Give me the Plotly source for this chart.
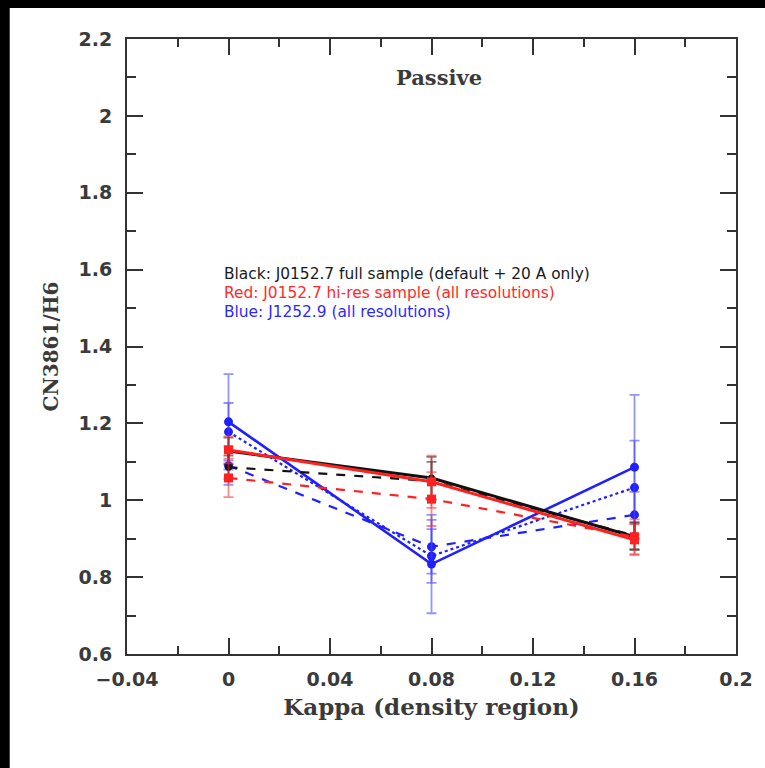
import plotly.graph_objects as go

# Kappa (density region) bins
kappa = [0.0, 0.08, 0.16]

# CN3861/H6 index per sample and variant
black_solid = [1.128, 1.058, 0.905]
black_solid_err = [0.035, 0.055, 0.035]
black_dash = [1.086, 1.050, 0.908]
black_dash_err = [0.030, 0.050, 0.035]

red_solid = [1.131, 1.048, 0.897]
red_solid_err = [0.035, 0.068, 0.040]
red_dash = [1.058, 1.003, 0.905]
red_dash_err = [0.050, 0.070, 0.045]

blue_solid = [1.204, 0.834, 1.086]
blue_solid_err = [0.124, 0.128, 0.188]
blue_dot = [1.178, 0.855, 1.033]
blue_dot_err = [0.075, 0.070, 0.122]
blue_dash = [1.090, 0.879, 0.962]
blue_dash_err = [0.050, 0.070, 0.060]

x_ticks = [-0.04, 0, 0.04, 0.08, 0.12, 0.16, 0.2]
x_tick_text = ["\u22120.04", "0", "0.04", "0.08", "0.12", "0.16", "0.2"]
y_ticks = [0.6, 0.8, 1.0, 1.2, 1.4, 1.6, 1.8, 2.0, 2.2]
y_tick_text = ["0.6", "0.8", "1", "1.2", "1.4", "1.6", "1.8", "2", "2.2"]

legend_lines = [
    ("Black: J0152.7 full sample (default + 20 A only)", "#1a1a1a"),
    ("Red: J0152.7 hi-res sample (all resolutions)", "#ff2a2a"),
    ("Blue: J1252.9 (all resolutions)", "#2a2aff"),
]

BLUE = "#1f1fff"
BLUE_ERR = "rgba(60,60,255,0.55)"
RED = "#ff2020"
RED_ERR = "rgba(255,40,40,0.55)"
BLACK = "#111111"
BLACK_ERR = "rgba(20,20,20,0.55)"
TEXT = "#3a3a3a"

fig = go.Figure()


def add_series(y, err, color, err_color, dash, symbol, width=2.6, size=9):
    fig.add_trace(go.Scatter(
        x=kappa, y=y, mode="lines+markers",
        line=dict(color=color, width=width, dash=dash),
        marker=dict(color=color, size=size, symbol=symbol),
        error_y=dict(type="data", array=err, visible=True,
                     color=err_color, thickness=1.8, width=5),
        showlegend=False, hoverinfo="skip",
    ))


# blue drawn first, then black, red on top
add_series(blue_dash, blue_dash_err, BLUE, BLUE_ERR, "dash", "circle", width=2.2)
add_series(blue_dot, blue_dot_err, BLUE, BLUE_ERR, "dot", "circle", width=2.2)
add_series(blue_solid, blue_solid_err, BLUE, BLUE_ERR, "solid", "circle")
add_series(black_dash, black_dash_err, BLACK, BLACK_ERR, "dash", "circle", width=2.2, size=7)
add_series(black_solid, black_solid_err, BLACK, BLACK_ERR, "solid", "circle", width=3, size=7)
add_series(red_dash, red_dash_err, RED, RED_ERR, "dash", "square", width=2.2)
add_series(red_solid, red_solid_err, RED, RED_ERR, "solid", "square", width=3)

axis_common = dict(
    showgrid=False, zeroline=False, showline=True, mirror="ticks",
    linecolor="#333333", linewidth=2,
    ticks="inside", ticklen=16, tickwidth=2, tickcolor="#333333",
    tickfont=dict(family="DejaVu Sans", size=19, color=TEXT, weight="bold"),
)

fig.update_xaxes(
    range=[-0.04, 0.2], tickmode="array", tickvals=x_ticks, ticktext=x_tick_text,
    ticklabelstandoff=7,
    minor=dict(dtick=0.02, ticks="inside", ticklen=8, tickwidth=2, tickcolor="#333333"),
    title=dict(text="Kappa (density region)",
               font=dict(family="DejaVu Serif", size=23, color=TEXT, weight="bold"),
               standoff=10),
    **axis_common,
)
fig.update_yaxes(
    range=[0.6, 2.2], tickmode="array", tickvals=y_ticks, ticktext=y_tick_text,
    ticklabelstandoff=9,
    minor=dict(dtick=0.1, ticks="inside", ticklen=9, tickwidth=2, tickcolor="#333333"),
    title=dict(text="CN3861/H6",
               font=dict(family="DejaVu Serif", size=20, color=TEXT, weight="bold"),
               standoff=15),
    **axis_common,
)

fig.add_annotation(x=0.513, y=2.1, xref="x domain", yref="y", text="Passive",
                   showarrow=False, xanchor="center", yanchor="middle",
                   font=dict(family="DejaVu Serif", size=21, color=TEXT, weight="bold"))
for i, (txt, col) in enumerate(legend_lines):
    fig.add_annotation(x=-0.0025, y=1.588 - i * 0.049, xref="x", yref="y", text=txt,
                       showarrow=False, xanchor="left", yanchor="middle",
                       font=dict(family="DejaVu Sans", size=15.4, color=col))

# dark frame along the top and left edges of the page
fig.add_shape(type="rect", xref="paper", yref="paper",
              x0=-0.5, x1=1.5, y0=(654 - 8) / 615, y1=1.5,
              fillcolor="black", line_width=0, layer="above")
fig.add_shape(type="rect", xref="paper", yref="paper",
              x0=-0.5, x1=(8 - 127) / 618, y0=-0.5, y1=1.5,
              fillcolor="black", line_width=0, layer="above")

fig.update_layout(
    width=765, height=768,
    margin=dict(l=127, r=20, t=39, b=114),
    paper_bgcolor="white", plot_bgcolor="white",
)

fig.write_html("out.html")
